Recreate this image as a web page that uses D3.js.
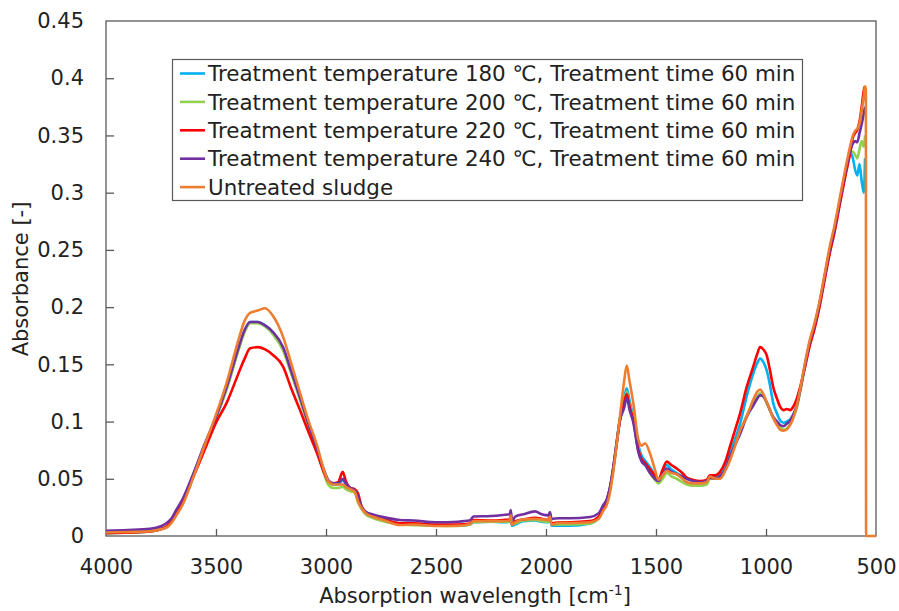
<!DOCTYPE html>
<html>
<head>
<meta charset="utf-8">
<script src="https://cdn.jsdelivr.net/npm/d3@7.9.0/dist/d3.min.js"></script>
<style>
  body { margin: 0; background: #fff; }
  svg { display: block; font-family: "DejaVu Sans", sans-serif; }
</style>
</head>
<body>
<svg width="899" height="611"></svg>
<script>
// wavenumber grid (cm-1), shared by all series
const wavenumbers = [4000, 3900, 3800, 3750, 3720, 3700, 3680, 3650, 3600, 3550, 3500, 3450, 3400, 3370, 3345, 3310, 3277, 3240, 3195, 3160, 3118, 3080, 3042, 3010, 2990, 2968, 2945, 2924, 2910, 2890, 2870, 2854, 2840, 2820, 2790, 2740, 2664, 2600, 2500, 2400, 2345, 2330, 2250, 2195, 2165, 2160, 2155, 2140, 2103, 2050, 2020, 1990, 1982, 1975, 1940, 1891, 1800, 1760, 1740, 1724, 1710, 1695, 1680, 1664, 1645, 1633, 1620, 1603, 1580, 1565, 1550, 1527, 1505, 1489, 1470, 1451, 1430, 1406, 1380, 1360, 1330, 1300, 1270, 1255, 1230, 1209, 1185, 1164, 1140, 1118, 1088, 1058, 1040, 1027, 1012, 997, 982, 967, 950, 936, 920, 906, 890, 876, 860, 845, 820, 800, 782, 760, 740, 709, 690, 664, 640, 618, 605, 595, 585, 575, 565, 555, 550, 546, 545, 500];

const t180 = [.0025, .003, .004, .006, .009, .014, .021, .031, .055, .080, .103, .130, .162, .179, .187, .187, .184, .177, .164, .144, .120, .097, .076, .057, .048, .045, .045, .049, .045, .042, .040, .033, .026, .021, .018, .014, .011, .0105, .009, .009, .010, .012, .0125, .012, .0125, .017, .009, .010, .013, .0135, .0125, .012, .016, .009, .009, .009, .011, .016, .025, .031, .041, .058, .080, .103, .120, .129, .118, .104, .079, .070, .066, .060, .053, .049, .056, .062, .058, .055, .052, .050, .048, .047, .048, .052, .052, .053, .061, .072, .085, .098, .122, .142, .151, .155, .152, .145, .132, .116, .107, .101, .099, .100, .102, .106, .114, .127, .152, .170, .182, .200, .220, .251, .267, .293, .316, .335, .330, .320, .315, .325, .310, .300, .330, null, null, null];
const t200 = [.0025, .003, .004, .006, .009, .014, .021, .031, .055, .080, .103, .129, .161, .178, .186, .186, .183, .176, .162, .143, .119, .096, .075, .055, .045, .042, .042, .043, .041, .039, .038, .029, .024, .019, .016, .013, .010, .0095, .009, .0088, .010, .012, .0125, .0125, .013, .017, .010, .011, .0135, .014, .013, .0125, .016, .010, .010, .010, .011, .016, .025, .031, .041, .058, .079, .102, .117, .126, .115, .103, .076, .066, .063, .055, .049, .046, .050, .055, .052, .050, .047, .045, .044, .044, .045, .050, .050, .051, .058, .067, .080, .091, .105, .117, .122, .125, .122, .116, .110, .103, .098, .095, .093, .094, .098, .104, .112, .126, .151, .169, .181, .199, .219, .250, .266, .292, .315, .334, .336, .333, .330, .338, .345, .340, .350, null, null, null];
const t220 = [.0025, .003, .004, .006, .009, .014, .020, .030, .053, .076, .099, .117, .141, .155, .164, .165, .163, .158, .148, .130, .110, .091, .073, .056, .048, .046, .047, .056, .048, .042, .041, .037, .027, .021, .018, .015, .011, .011, .010, .010, .011, .014, .0135, .014, .0145, .019, .010, .013, .0145, .016, .015, .014, .018, .011, .012, .012, .013, .017, .025, .031, .041, .058, .079, .101, .116, .124, .113, .101, .075, .067, .064, .058, .053, .049, .058, .065, .062, .059, .055, .051, .049, .048, .049, .053, .053, .056, .065, .078, .093, .107, .130, .148, .159, .165, .163, .158, .145, .130, .120, .113, .110, .111, .110, .113, .120, .130, .150, .167, .179, .197, .217, .248, .264, .290, .314, .334, .348, .352, .355, .362, .375, .390, .393, null, null, null];
const t240 = [.0046, .0052, .0062, .0085, .012, .016, .023, .033, .056, .081, .104, .131, .163, .180, .187, .187, .184, .178, .165, .145, .121, .098, .077, .058, .049, .046, .046, .050, .046, .042, .040, .034, .026, .021, .019, .0165, .014, .0135, .012, .0125, .0137, .017, .0175, .0184, .019, .0227, .013, .017, .019, .0215, .019, .018, .021, .015, .0155, .0155, .0166, .020, .027, .032, .042, .059, .080, .101, .112, .121, .110, .099, .073, .065, .062, .055, .050, .048, .054, .059, .056, .054, .052, .050, .048, .047, .048, .051, .050, .052, .058, .069, .080, .089, .104, .114, .120, .123, .122, .117, .110, .104, .100, .097, .096, .098, .101, .106, .114, .127, .152, .170, .182, .200, .220, .251, .267, .293, .317, .336, .343, .345, .344, .352, .360, .370, .375, null, null, null];
const untreated = [.003, .0035, .0042, .0058, .008, .012, .018, .028, .053, .080, .106, .135, .170, .188, .195, .197, .199, .192, .174, .152, .125, .101, .080, .058, .048, .045, .045, .045, .043, .041, .039, .030, .025, .020, .017, .014, .0096, .010, .0087, .009, .0105, .013, .013, .013, .0135, .018, .010, .012, .0145, .015, .0145, .014, .017, .010, .0115, .0114, .012, .015, .022, .027, .037, .055, .078, .104, .135, .149, .135, .116, .084, .079, .081, .072, .058, .049, .053, .057, .055, .054, .050, .047, .046, .046, .047, .052, .050, .050, .057, .066, .079, .092, .104, .119, .126, .128, .124, .117, .110, .103, .097, .093, .092, .093, .097, .103, .114, .128, .154, .172, .184, .202, .222, .254, .270, .296, .320, .340, .350, .354, .356, .360, .372, .385, .393, .390, 0, 0];

const seriesNames = [
  'Treatment temperature 180 \u2103, Treatment time 60 min',
  'Treatment temperature 200 \u2103, Treatment time 60 min',
  'Treatment temperature 220 \u2103, Treatment time 60 min',
  'Treatment temperature 240 \u2103, Treatment time 60 min',
  'Untreated sludge'
];
const seriesValues = [t180, t200, t220, t240, untreated];
const colors = ['#00b0f0', '#92d050', '#ff0000', '#7030a0', '#ed7d31'];

const xTicks = [4000, 3500, 3000, 2500, 2000, 1500, 1000, 500];
const xTickLabels = ['4000', '3500', '3000', '2500', '2000', '1500', '1000', '500'];
const yTicks = [0, 0.05, 0.1, 0.15, 0.2, 0.25, 0.3, 0.35, 0.4, 0.45];
const yTickLabels = ['0', '0.05', '0.1', '0.15', '0.2', '0.25', '0.3', '0.35', '0.4', '0.45'];

const svg = d3.select('svg');
const plotLeft = 106, plotRight = 876, plotTop = 21, plotBottom = 536;
const axisColor = '#595959';

let x = d3.scaleLinear().domain([4000, 500]).range([plotLeft, plotRight]);
let y = d3.scaleLinear().domain([0, 0.45]).range([plotBottom, plotTop]);

// frame
svg.append('rect')
  .attr('x', plotLeft).attr('y', plotTop)
  .attr('width', plotRight - plotLeft).attr('height', plotBottom - plotTop)
  .attr('fill', 'none').attr('stroke', axisColor).attr('stroke-width', 1.3);

// inward ticks
let xAxis = svg.append('g').attr('transform', `translate(0,${plotBottom})`)
  .call(d3.axisBottom(x).tickValues(xTicks).tickSizeInner(-7).tickSizeOuter(0).tickPadding(23)
    .tickFormat((d, i) => xTickLabels[i]));
let yAxis = svg.append('g').attr('transform', `translate(${plotLeft},0)`)
  .call(d3.axisLeft(y).tickValues(yTicks).tickSizeInner(-8).tickSizeOuter(0).tickPadding(22)
    .tickFormat((d, i) => yTickLabels[i]));

[xAxis, yAxis].forEach(g => {
  g.select('.domain').remove();
  g.selectAll('line').attr('stroke', axisColor).attr('stroke-width', 1.3);
  g.selectAll('text').attr('fill', '#222').style('font-size', '21px')
    .style('font-family', '"DejaVu Sans", sans-serif');
});
xAxis.selectAll('line').filter(d => d === 4000 || d === 500).remove();
yAxis.selectAll('line').filter(d => d === 0 || d === 0.45).remove();

// spectra
let line = d3.line()
  .defined(d => d[1] != null)
  .x(d => x(d[0]))
  .y(d => y(d[1]))
  .curve(d3.curveMonotoneX);

seriesValues.forEach((vals, idx) => {
  let pts = wavenumbers.map((w, i) => [w, vals[i]]);
  svg.append('path')
    .attr('d', line(pts))
    .attr('fill', 'none')
    .attr('stroke', colors[idx])
    .attr('stroke-width', 2.6)
    .attr('stroke-linejoin', 'round');
});

// axis titles
let xTitle = svg.append('text')
  .attr('x', 475).attr('y', 603)
  .attr('text-anchor', 'middle')
  .attr('fill', '#222')
  .style('font-size', '21px');
xTitle.append('tspan').text('Absorption wavelength [cm');
xTitle.append('tspan').text('-1').attr('dy', -8).style('font-size', '14px');
xTitle.append('tspan').text(']').attr('dy', 8);

svg.append('text')
  .attr('transform', 'translate(28,279) rotate(-90)')
  .attr('text-anchor', 'middle')
  .attr('fill', '#222')
  .style('font-size', '21px')
  .text('Absorbance [-]');

// legend
let legend = svg.append('g');
legend.append('rect')
  .attr('x', 172.5).attr('y', 59.5)
  .attr('width', 630).attr('height', 141)
  .attr('fill', '#fff').attr('stroke', axisColor).attr('stroke-width', 1.2);

seriesNames.forEach((name, idx) => {
  let ly = 73.5 + idx * 28.4;
  legend.append('line')
    .attr('x1', 180).attr('x2', 205)
    .attr('y1', ly).attr('y2', ly)
    .attr('stroke', colors[idx]).attr('stroke-width', 2.6);
  legend.append('text')
    .attr('x', 208).attr('y', ly)
    .attr('dy', '0.36em')
    .attr('fill', '#222')
    .style('font-size', '21.4px')
    .text(name);
});
</script>
</body>
</html>
